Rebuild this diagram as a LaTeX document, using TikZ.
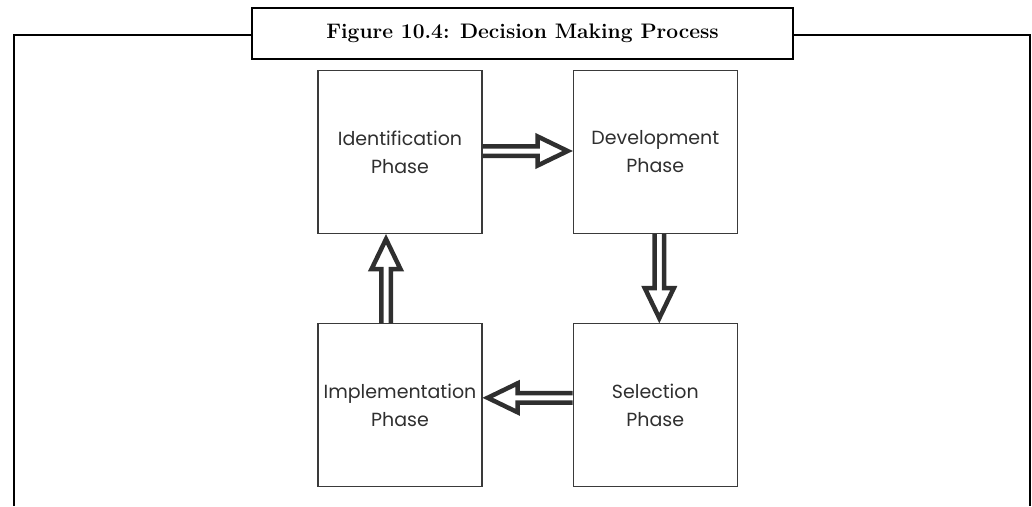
\documentclass[tikz,border=0pt]{standalone}
\usepackage{fontspec}
\usepackage{xcolor}
\usepackage{tikz}
\usetikzlibrary{positioning, arrows.meta, calc}
\newfontfamily\phasefont{Poppins}
\definecolor{inkgray}{HTML}{2F2F2F}
\definecolor{boxgray}{HTML}{3A3A3A}

\tikzset{
    phase/.style={draw=boxgray, line width=1.3pt, minimum width=164pt, minimum height=163pt,
        align=center, text=inkgray, font=\phasefont\fontsize{19}{28}\selectfont},
    flow/.style={draw=inkgray, line width=4.5pt, line join=miter},
}
\newcommand{\phasearrow}[2]{%
    \coordinate (tail) at (#1);
    \coordinate (head) at (#2);
    \coordinate (tip) at ($(head)!5pt!(tail)$);
    \coordinate (base) at ($(head)!35pt!(tail)$);
    \draw[flow] ($(tail)!4.75pt!90:(tip)$) -- ($(base)!4.75pt!90:(tip)$) -- ($(base)!14.5pt!90:(tip)$)
        -- (tip) -- ($(base)!14.5pt!-90:(tip)$) -- ($(base)!4.75pt!-90:(tip)$) -- ($(tail)!4.75pt!-90:(tip)$);
}

\begin{document}
\begin{tikzpicture}[x=1pt, y=1pt]
    \useasboundingbox (0,0) rectangle (1032,-506);
    \draw[line width=2pt] (14,-506) -- (14,-35) -- (1030,-35) -- (1030,-506);
    \node[draw, line width=2pt, fill=white, minimum width=541pt, minimum height=51pt,
          font=\bfseries\fontsize{21}{24}\selectfont] (title) at (522.5,-33.5)
          {Figure 10.4: Decision Making Process};

    \node[phase] (ident) at (400,-152) {Identification\\Phase};
    \node[phase, right=90pt of ident] (devel) {Development\\Phase};
    \node[phase, below=89pt of devel] (select) {Selection\\Phase};
    \node[phase, below=89pt of ident] (implem) {Implementation\\Phase};

    \phasearrow{[yshift=1pt]ident.east}{[yshift=1pt]devel.west}
    \phasearrow{[xshift=4pt]devel.south}{[xshift=4pt]select.north}
    \phasearrow{[yshift=7.5pt]select.west}{[yshift=7.5pt]implem.east}
    \phasearrow{[xshift=-14pt]implem.north}{[xshift=-14pt]ident.south}
\end{tikzpicture}
\end{document}
